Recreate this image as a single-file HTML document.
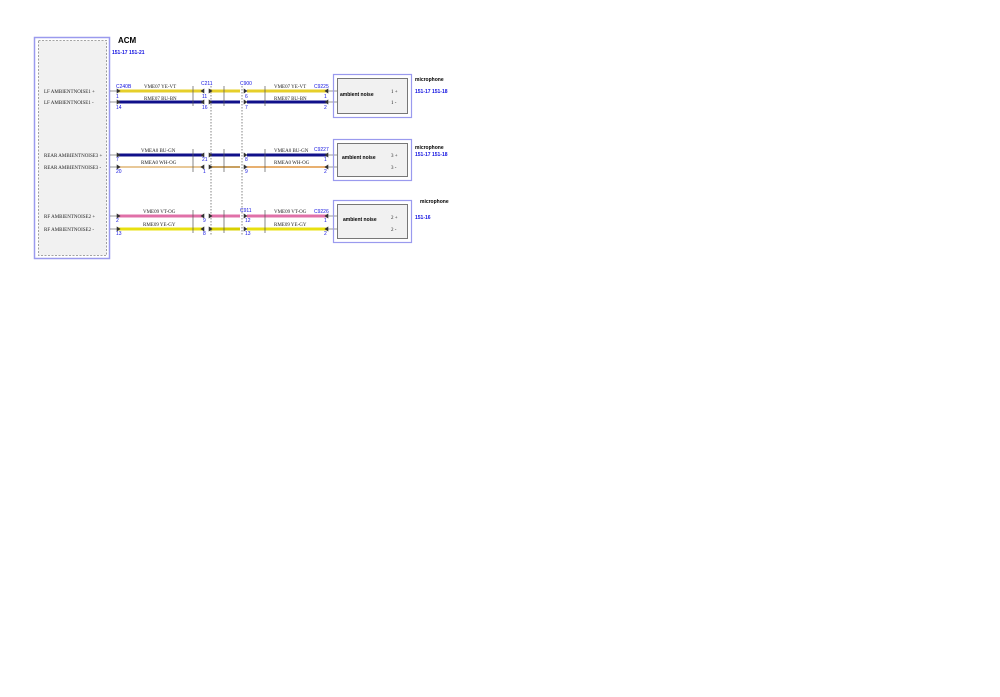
<!DOCTYPE html>
<html><head><meta charset="utf-8"><style>
html,body{margin:0;padding:0;background:#fff;width:1000px;height:697px;overflow:hidden}
svg{display:block}
.s{font-family:"Liberation Serif",serif;font-size:5px;fill:#222}
.b{font-family:"Liberation Sans",sans-serif;font-size:5px;fill:#1010e0}
.bl{font-family:"Liberation Sans",sans-serif;font-weight:bold;fill:#000}
</style></head><body>
<svg width="1000" height="697" viewBox="0 0 1000 697" xmlns="http://www.w3.org/2000/svg">
<!-- ACM box -->
<rect x="34.5" y="37.5" width="75" height="221" fill="none" stroke="#9a9aee" stroke-width="1.5"/>
<rect x="38.5" y="40.5" width="68" height="215" fill="#f1f1f1" stroke="#888" stroke-width="0.8" stroke-dasharray="2,1.5"/>
<text x="118" y="43" class="bl" font-size="8">ACM</text>
<text x="112" y="54" class="b" font-weight="bold" font-size="4.5">151-17  151-21</text>
<!-- dashed verticals -->
<line x1="211" y1="86" x2="211" y2="236" stroke="#666" stroke-width="0.8" stroke-dasharray="1.5,1.5"/>
<line x1="242" y1="86" x2="242" y2="236" stroke="#666" stroke-width="0.8" stroke-dasharray="1.5,1.5"/>
<g id="rows">
<!-- Row helper drawn manually -->
</g>
<!-- wires -->
<g stroke-width="3">
<line x1="117" y1="91" x2="204" y2="91" stroke="#e6cf2a"/>
<line x1="209" y1="91" x2="240" y2="91" stroke="#e6cf2a"/>
<line x1="247" y1="91" x2="328" y2="91" stroke="#e6cf2a"/>
<line x1="117" y1="102" x2="204" y2="102" stroke="#10108a"/>
<line x1="209" y1="102" x2="240" y2="102" stroke="#10108a"/>
<line x1="247" y1="102" x2="328" y2="102" stroke="#10108a"/>
<line x1="117" y1="155" x2="204" y2="155" stroke="#10108a"/>
<line x1="209" y1="155" x2="240" y2="155" stroke="#10108a"/>
<line x1="247" y1="155" x2="328" y2="155" stroke="#10108a"/>
<line x1="117" y1="167" x2="204" y2="167" stroke="#e8c898" stroke-width="2"/>
<line x1="209" y1="167" x2="240" y2="167" stroke="#c8a060" stroke-width="2"/>
<line x1="247" y1="167" x2="328" y2="167" stroke="#e8b070" stroke-width="2"/>
<line x1="117" y1="216" x2="204" y2="216" stroke="#e070a8"/>
<line x1="209" y1="216" x2="240" y2="216" stroke="#e070a8"/>
<line x1="247" y1="216" x2="328" y2="216" stroke="#e070a8"/>
<line x1="117" y1="229" x2="204" y2="229" stroke="#e8e010"/>
<line x1="209" y1="229" x2="240" y2="229" stroke="#d8d000"/>
<line x1="247" y1="229" x2="328" y2="229" stroke="#e8e010"/>
</g>
<!-- arrows -->
<g fill="#333" stroke="#333" stroke-width="0.6">
<path d="M110 91h7M110 102h7M110 155h7M110 167h7M110 216h7M110 229h7"/>
<path d="M117 89l3 2l-3 2zM117 100l3 2l-3 2zM117 153l3 2l-3 2zM117 165l3 2l-3 2zM117 214l3 2l-3 2zM117 227l3 2l-3 2z"/>
<path d="M204 89l-3 2l3 2zM204 100l-3 2l3 2zM204 153l-3 2l3 2zM204 165l-3 2l3 2zM204 214l-3 2l3 2zM204 227l-3 2l3 2z"/>
<path d="M209 89l3 2l-3 2zM209 100l3 2l-3 2zM209 153l3 2l-3 2zM209 165l3 2l-3 2zM209 214l3 2l-3 2zM209 227l3 2l-3 2z"/>
<path d="M244 89l3 2l-3 2zM244 100l3 2l-3 2zM244 153l3 2l-3 2zM244 165l3 2l-3 2zM244 214l3 2l-3 2zM244 227l3 2l-3 2z"/>
<path d="M328 89l-3 2l3 2zM328 100l-3 2l3 2zM328 153l-3 2l3 2zM328 165l-3 2l3 2zM328 214l-3 2l3 2zM328 227l-3 2l3 2z"/>
<path d="M328 91h9M328 102h9M328 155h9M328 167h9M328 216h9M328 229h9"/>
</g>
<!-- bundle markers -->
<g stroke="#555" stroke-width="0.7" fill="#fff">
<line x1="193" y1="86" x2="193" y2="106"/><line x1="224" y1="86" x2="224" y2="106"/><line x1="265" y1="86" x2="265" y2="106"/>
<line x1="193" y1="149" x2="193" y2="172"/><line x1="224" y1="149" x2="224" y2="172"/><line x1="265" y1="149" x2="265" y2="172"/>
<line x1="193" y1="210" x2="193" y2="233"/><line x1="224" y1="210" x2="224" y2="233"/><line x1="265" y1="210" x2="265" y2="233"/>
</g>
<!-- left labels -->
<text x="44" y="93" class="s">LF AMBIENTNOISE1 +</text>
<text x="44" y="104" class="s">LF AMBIENTNOISE1 -</text>
<text x="44" y="157" class="s">REAR AMBIENTNOISE3 +</text>
<text x="44" y="169" class="s">REAR AMBIENTNOISE3 -</text>
<text x="44" y="218" class="s">RF AMBIENTNOISE2 +</text>
<text x="44" y="231" class="s">RF AMBIENTNOISE2 -</text>
<!-- wire labels -->
<text x="144" y="88" class="s">VME07  YE-VT</text><text x="274" y="88" class="s">VME07  YE-VT</text>
<text x="144" y="100" class="s">RME07  BU-BN</text><text x="274" y="100" class="s">RME07  BU-BN</text>
<text x="141" y="152" class="s">VMEA0  BU-GN</text><text x="274" y="152" class="s">VMEA0  BU-GN</text>
<text x="141" y="164" class="s">RMEA0  WH-OG</text><text x="274" y="164" class="s">RMEA0  WH-OG</text>
<text x="143" y="213" class="s">VME09  VT-OG</text><text x="274" y="213" class="s">VME09  VT-OG</text>
<text x="143" y="226" class="s">RME09  YE-GY</text><text x="274" y="226" class="s">RME09  YE-GY</text>
<!-- connector names & pins -->
<g class="b">
<text x="116" y="88">C240B</text><text x="201" y="85">C211</text><text x="240" y="85">C900</text><text x="314" y="88">C9225</text>
<text x="116" y="98">1</text><text x="116" y="109">14</text><text x="202" y="98">11</text><text x="202" y="109">16</text>
<text x="245" y="98">6</text><text x="245" y="109">7</text><text x="324" y="98">1</text><text x="324" y="109">2</text>
<text x="314" y="151">C9227</text>
<text x="116" y="161">7</text><text x="116" y="173">20</text><text x="202" y="161">21</text><text x="203" y="173">1</text>
<text x="245" y="161">8</text><text x="245" y="173">9</text><text x="324" y="161">1</text><text x="324" y="173">2</text>
<text x="240" y="212">C911</text><text x="314" y="213">C9226</text>
<text x="116" y="222">2</text><text x="116" y="235">13</text><text x="203" y="222">9</text><text x="203" y="235">8</text>
<text x="245" y="222">12</text><text x="245" y="235">13</text><text x="324" y="222">1</text><text x="324" y="235">2</text>
</g>
<!-- mic boxes -->
<g>
<rect x="333.5" y="74.5" width="78" height="43" fill="none" stroke="#9a9aee" stroke-width="1.2"/>
<rect x="337.5" y="78.5" width="70" height="35" fill="#f1f1f1" stroke="#777" stroke-width="1"/>
<text x="340" y="96" class="bl" font-size="5">ambient noise</text>
<text x="391" y="93" class="s">1 +</text><text x="391" y="104" class="s">1 -</text>
<text x="415" y="81" class="bl" font-size="5">microphone</text>
<text x="415" y="93" class="b" font-weight="bold" font-size="4.5">151-17  151-18</text>

<rect x="333.5" y="139.5" width="78" height="41" fill="none" stroke="#9a9aee" stroke-width="1.2"/>
<rect x="337.5" y="143.5" width="70" height="33" fill="#f1f1f1" stroke="#777" stroke-width="1"/>
<text x="342" y="159" class="bl" font-size="5">ambient noise</text>
<text x="391" y="157" class="s">3 +</text><text x="391" y="169" class="s">3 -</text>
<text x="415" y="149" class="bl" font-size="5">microphone</text>
<text x="415" y="156" class="b" font-weight="bold" font-size="4.5">151-17  151-18</text>

<rect x="333.5" y="200.5" width="78" height="42" fill="none" stroke="#9a9aee" stroke-width="1.2"/>
<rect x="337.5" y="204.5" width="70" height="34" fill="#f1f1f1" stroke="#777" stroke-width="1"/>
<text x="343" y="221" class="bl" font-size="5">ambient noise</text>
<text x="391" y="219" class="s">2 +</text><text x="391" y="231" class="s">2 -</text>
<text x="420" y="203" class="bl" font-size="5">microphone</text>
<text x="415" y="219" class="b" font-weight="bold" font-size="4.5">151-16</text>
</g>
</svg>
</body></html>
